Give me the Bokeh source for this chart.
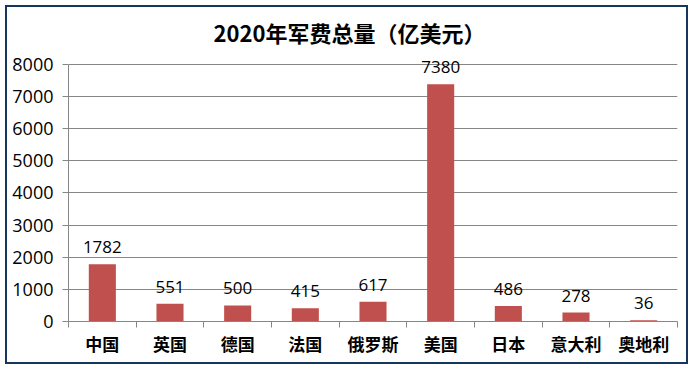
from bokeh.plotting import figure
from bokeh.models import Range1d, FixedTicker, ColumnDataSource, LabelSet, Title
from bokeh.core.properties import value
from bokeh.embed import file_html
from bokeh.resources import INLINE

title_text = "2020年军费总量（亿美元）"
countries = ["中国", "英国", "德国", "法国", "俄罗斯", "美国", "日本", "意大利", "奥地利"]
spending = [1782, 551, 500, 415, 617, 7380, 486, 278, 36]
y_ticks = [0, 1000, 2000, 3000, 4000, 5000, 6000, 7000, 8000]

xs = [i + 0.5 for i in range(len(countries))]
src = ColumnDataSource(dict(x=xs, y=spending, lab=[str(v) for v in spending]))

p = figure(width=683, height=359, output_backend="svg", toolbar_location=None,
           x_range=Range1d(0, len(countries)), y_range=Range1d(0, 8400),
           min_border_left=61, min_border_right=13, min_border_top=44, min_border_bottom=45)
p.title = None
p.add_layout(Title(text=title_text, align="left", offset=145, standoff=7,
                   text_font="Noto Sans CJK SC", text_font_size="22px",
                   text_font_style="bold", text_color="black"), "above")

p.vbar(x="x", top="y", width=0.4, source=src, fill_color="#C0504D", line_color=None)
p.add_layout(LabelSet(x="x", y="y", text="lab", source=src, text_align="center",
                      text_baseline="alphabetic", y_offset=11, text_font=value("Open Sans"),
                      text_font_size=value("17px"), text_color="black"))

p.outline_line_color = None
p.border_fill_color = "white"
p.background_fill_color = "white"

# x axis
p.xaxis.ticker = FixedTicker(ticks=xs, minor_ticks=list(range(len(countries) + 1)))
p.xaxis.major_label_overrides = {x: c for x, c in zip(xs, countries)}
p.xaxis.major_tick_line_color = None
p.xaxis.minor_tick_line_color = "#868686"
p.xaxis.minor_tick_out = 6
p.xaxis.minor_tick_in = 0
p.xaxis.axis_line_color = "#868686"
p.xaxis.major_label_text_font = "Noto Sans CJK SC"
p.xaxis.major_label_text_font_style = "bold"
p.xaxis.major_label_text_font_size = "17px"
p.xaxis.major_label_text_color = "black"
p.xaxis.major_label_standoff = 3
p.xgrid.grid_line_color = None

# y axis
p.yaxis.ticker = FixedTicker(ticks=y_ticks)
p.yaxis.bounds = (0, 8000)
p.yaxis.minor_tick_line_color = None
p.yaxis.major_tick_out = 6
p.yaxis.major_tick_in = 0
p.yaxis.major_tick_line_color = "#868686"
p.yaxis.axis_line_color = "#868686"
p.yaxis.major_label_text_font = "Open Sans"
p.yaxis.major_label_text_font_size = "18px"
p.yaxis.major_label_text_color = "black"
p.yaxis.major_label_standoff = 9
p.ygrid.grid_line_color = "#868686"
p.ygrid.ticker = FixedTicker(ticks=y_ticks)

p.styles = {"border": "2px solid #17365D",
            "margin-left": "5px", "margin-top": "5px"}

open("out.html", "w").write(file_html(p, INLINE))
